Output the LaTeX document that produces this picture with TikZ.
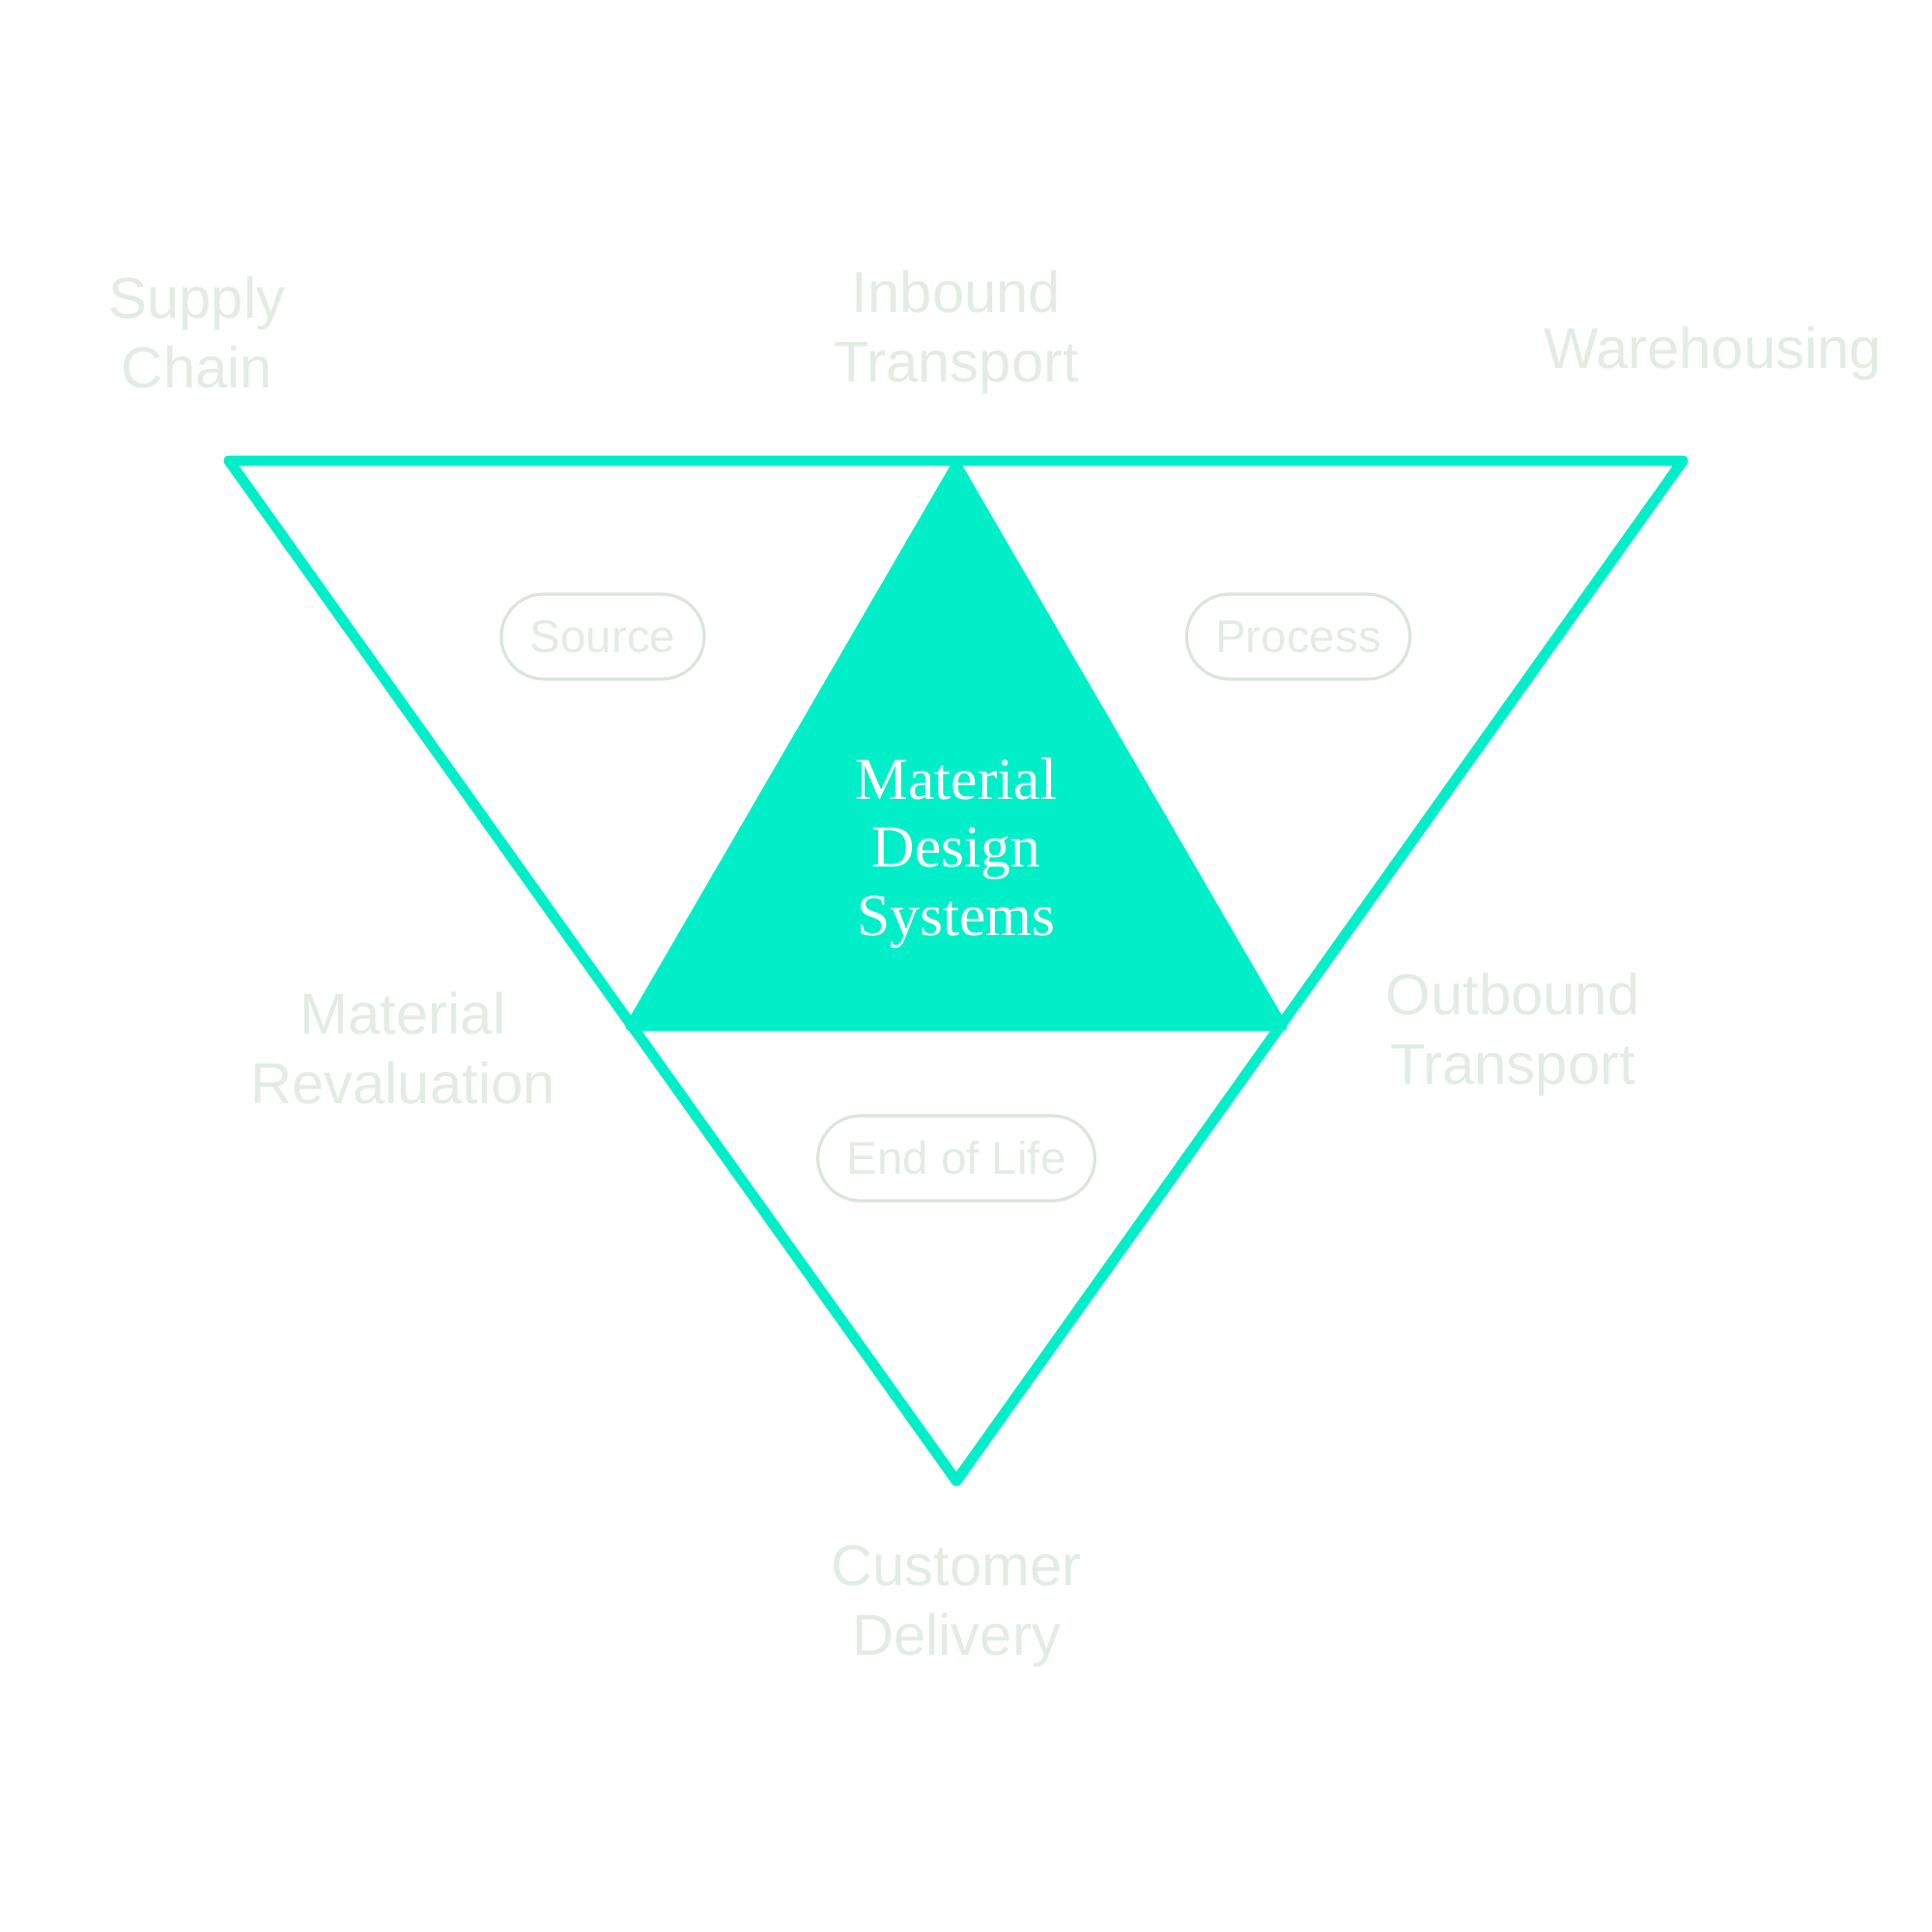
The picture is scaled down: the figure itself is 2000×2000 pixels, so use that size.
\documentclass[tikz,border=0pt]{standalone}
\usepackage{fontspec}
\newfontfamily\labelfont{Liberation Sans}
\newfontfamily\titlefont{Liberation Serif}
\usetikzlibrary{positioning}

\definecolor{mdsteal}{HTML}{00EFC9}
\definecolor{mdsgrey}{HTML}{E2ECE4}
\definecolor{mdsline}{HTML}{DAE5DC}

\begin{document}
\begin{tikzpicture}[
x=0.01cm, y=-0.01cm,
outline/.style={draw=mdsteal, line width=3.1pt, line join=round},
core/.style={fill=mdsteal, draw=mdsteal, line width=3.1pt, line join=round},
stage/.style={align=center, text=mdsgrey, font=\labelfont\fontsize{17}{20.5}\selectfont},
pill/.style={rectangle, rounded corners=12.5pt, draw=mdsline, line width=0.9pt, minimum height=25pt, inner xsep=8.5pt, text=mdsgrey, font=\labelfont\fontsize{13.5}{16}\selectfont},
title/.style={align=center, text=white, font=\titlefont\fontsize{17.5}{20}\selectfont}
]
\useasboundingbox (0,0) rectangle (2000,2000);

% triangle corners
\coordinate (out_tl) at (237,477);
\coordinate (out_tr) at (1742,477);
\coordinate (out_b) at (990,1533);
\coordinate (in_t) at (990,482);
\coordinate (in_bl) at (653,1062);
\coordinate (in_br) at (1327,1062);

\draw[core] (in_t) -- (in_bl) -- (in_br) -- cycle;
\draw[outline] (out_tl) -- (out_tr) -- (out_b) -- cycle;

\node[title] (mds_core) at (990,883) {Material\\Design\\Systems};

\node[pill] (mds_source) at (624,659) {Source};
\node[pill] (mds_process) at (1344,659) {Process};
\node[pill] (mds_eol) at (990,1199) {End of Life};

\node[stage] (mds_supply) at (204,344) {Supply\\Chain};
\node[stage] (mds_inbound) at (990,344) {Inbound\\Transport};
\node[stage] (mds_warehouse) at (1773,366) {Warehousing};
\node[stage] (mds_reval) at (417,1085) {Material\\Revaluation};
\node[stage] (mds_outbound) at (1566,1071) {Outbound\\Transport};
\node[stage] (mds_delivery) at (990,1663) {Customer\\Delivery};

\end{tikzpicture}
\end{document}
